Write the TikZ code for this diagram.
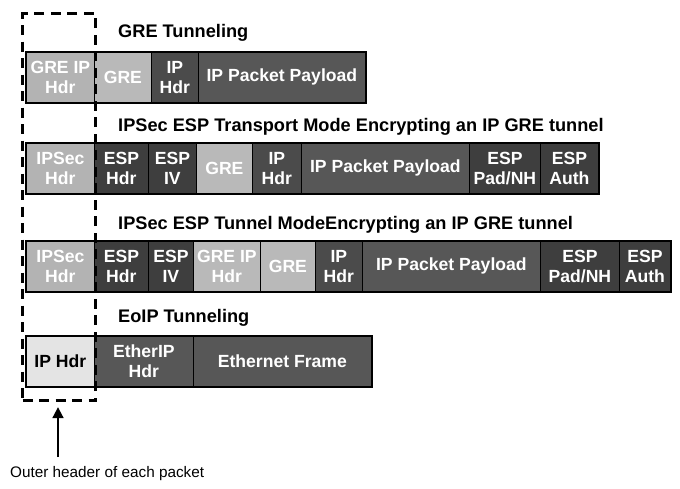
\documentclass[tikz,border=0pt]{standalone}
\usepackage{fontspec}
\setmainfont{Liberation Sans}
\usetikzlibrary{arrows.meta}
\definecolor{ltgray}{HTML}{B3B3B3}
\definecolor{ltgrayb}{HTML}{B9B9B9}
\definecolor{dkgray}{HTML}{3E3E3E}
\definecolor{mdgray}{HTML}{4B4B4B}
\definecolor{plgray}{HTML}{575757}
\definecolor{pale}{HTML}{E4E4E4}
\newcommand\pktfont{\fontsize{17.6}{20.5}\selectfont\bfseries}
\newcommand\ttlfont{\fontsize{18.2}{21}\selectfont\bfseries}
\begin{document}
\begin{tikzpicture}[x=1pt,y=-1pt,
  cellbase/.style={draw=black, line width=0.8pt, inner sep=0pt, minimum height=50pt,
    anchor=north west, align=center, text=white, font=\pktfont},
  lt/.style={cellbase, fill=ltgray},
  ltb/.style={cellbase, fill=ltgrayb},
  dk/.style={cellbase, fill=dkgray},
  md/.style={cellbase, fill=mdgray},
  pl/.style={cellbase, fill=plgray},
  pa/.style={cellbase, fill=pale, text=black},
  outerframe/.style={draw=black, line width=2.4pt},
  ttl/.style={anchor=west, inner sep=0pt, font=\ttlfont},
  dashbox/.style={draw=black, line width=3.3pt, dash pattern=on 10pt off 6.5pt,
    inner sep=0pt, anchor=north west},
  uparrow/.style={draw=black, line width=2.8pt, -{Triangle[length=11pt,width=10.5pt]}}
]
\useasboundingbox (0,0) rectangle (680,489);

% Row 1
\node[ttl] (t1) at (118,33) {GRE Tunneling};
\node[lt, minimum width=68pt] (a1) at (26,52) {GRE IP\\Hdr};
\node[ltb, minimum width=57pt] (a2) at (94,52) {GRE};
\node[md, minimum width=47pt] (a3) at (151,52) {IP\\Hdr};
\node[pl, minimum width=167pt] (a4) at (198,52) {IP Packet Payload};
\draw[outerframe] (a1.north west) rectangle (a4.south east);

% Row 2
\node[ttl] (t2) at (118,127) {IPSec ESP Transport Mode Encrypting an IP GRE tunnel};
\node[lt, minimum width=68pt] (b1) at (26,143) {IPSec\\Hdr};
\node[dk, minimum width=54pt] (b2) at (94,143) {ESP\\Hdr};
\node[dk, minimum width=48pt] (b3) at (148,143) {ESP\\IV};
\node[ltb, minimum width=56pt] (b4) at (196,143) {GRE};
\node[md, minimum width=49pt] (b5) at (252,143) {IP\\Hdr};
\node[pl, minimum width=168pt] (b6) at (301,143) {IP Packet Payload};
\node[dk, minimum width=71pt] (b7) at (469,143) {ESP\\Pad/NH};
\node[dk, minimum width=58pt] (b8) at (540,143) {ESP\\Auth};
\draw[outerframe] (b1.north west) rectangle (b8.south east);

% Row 3
\node[ttl] (t3) at (118,225) {IPSec ESP Tunnel ModeEncrypting an IP GRE tunnel};
\node[lt, minimum width=68pt] (c1) at (26,241) {IPSec\\Hdr};
\node[dk, minimum width=54pt] (c2) at (94,241) {ESP\\Hdr};
\node[dk, minimum width=45pt] (c3) at (148,241) {ESP\\IV};
\node[ltb, minimum width=67pt] (c4) at (193,241) {GRE IP\\Hdr};
\node[ltb, minimum width=55pt] (c5) at (260,241) {GRE};
\node[md, minimum width=47pt] (c6) at (315,241) {IP\\Hdr};
\node[pl, minimum width=178pt] (c7) at (362,241) {IP Packet Payload};
\node[dk, minimum width=79pt] (c8) at (540,241) {ESP\\Pad/NH};
\node[dk, minimum width=51pt] (c9) at (619,241) {ESP\\Auth};
\draw[outerframe] (c1.north west) rectangle (c9.south east);

% Row 4
\node[ttl] (t4) at (118,318) {EoIP Tunneling};
\node[pa, minimum width=68pt] (d1) at (26,336) {IP Hdr};
\node[pl, minimum width=99pt] (d2) at (94,336) {EtherIP\\Hdr};
\node[pl, minimum width=178pt] (d3) at (193,336) {Ethernet Frame};
\draw[outerframe] (d1.north west) rectangle (d3.south east);

% Outer header marker
\node[dashbox, minimum width=73pt, minimum height=387pt] (obox) at (21,12) {};
\node[anchor=west, inner sep=0pt, font=\fontsize{15.3}{18}\selectfont] (olabel) at (10,474) {Outer header of each packet};
\coordinate (arrtail) at (58,457);
\coordinate (arrtip) at (58,407);
\draw[uparrow] (arrtail) -- (arrtip);
\end{tikzpicture}
\end{document}
